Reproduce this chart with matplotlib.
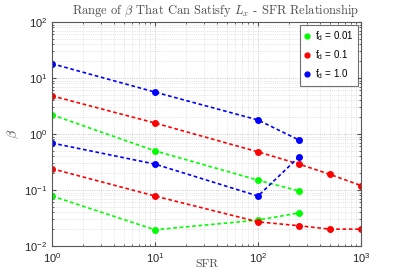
import matplotlib
matplotlib.use("Agg")
import matplotlib.pyplot as plt
from matplotlib.ticker import LogLocator

plt.rcParams['mathtext.fontset'] = 'custom'
plt.rcParams['mathtext.rm'] = 'Liberation Sans'
plt.rcParams['mathtext.sf'] = 'Liberation Sans'
plt.rcParams['mathtext.it'] = 'Liberation Sans:italic'
plt.rcParams['font.family'] = ['Liberation Sans', 'DejaVu Sans']
plt.rcParams['axes.formatter.use_mathtext'] = True

sfr_a = [1, 10, 100, 250]
sfr_red_upper = [1, 10, 100, 250, 500, 1000]

green_upper = [2.2, 0.50, 0.15, 0.096]
green_lower = [0.078, 0.0195, 0.029, 0.039]
red_upper = [4.8, 1.57, 0.48, 0.29, 0.19, 0.12]
red_lower = [0.24, 0.078, 0.027, 0.023, 0.020, 0.020]
blue_upper = [18.0, 5.6, 1.78, 0.78]
blue_lower = [0.69, 0.29, 0.078, 0.39]

labels = ['f$_\\mathregular{d}$ = 0.01', 'f$_\\mathregular{d}$ = 0.1', 'f$_\\mathregular{d}$ = 1.0']

fig = plt.figure(figsize=(3.99, 2.77), dpi=100)
ax = fig.add_axes([52/399, 1-246/277, (361-52)/399, (246-22)/277])

ls = (0, (2.2, 1.6))
kw = dict(linestyle=ls, linewidth=1.2, marker='o', markersize=4)
g = (0, 1, 0)
ax.plot(sfr_a, green_upper, color=g, label=labels[0], **kw)
ax.plot(sfr_red_upper, red_upper, color='r', label=labels[1], **kw)
ax.plot(sfr_a, blue_upper, color='b', label=labels[2], **kw)
ax.plot(sfr_a, green_lower, color=g, **kw)
ax.plot(sfr_red_upper, red_lower, color='r', **kw)
ax.plot(sfr_a, blue_lower, color='b', **kw)

ax.set_xscale('log')
ax.set_yscale('log')
ax.set_xlim(1, 1000)
ax.set_ylim(1e-2, 1e2)
ax.xaxis.set_major_locator(LogLocator(base=10, numticks=10))
ax.yaxis.set_major_locator(LogLocator(base=10, numticks=10))
ax.xaxis.set_minor_locator(LogLocator(base=10, subs=range(2, 10), numticks=100))
ax.yaxis.set_minor_locator(LogLocator(base=10, subs=range(2, 10), numticks=100))
ax.tick_params(which='both', direction='in', top=True, right=True, labelsize=8, color='0.3',
               labelcolor='0.15')
ax.tick_params(which='major', length=3)
ax.tick_params(which='minor', length=1.5)
ax.grid(True, which='major', linestyle=':', color='0.72', linewidth=0.6)
ax.grid(True, which='minor', linestyle=':', color='0.82', linewidth=0.5)
for s in ax.spines.values():
    s.set_color('0.35')
    s.set_linewidth(0.8)

ax.set_title(r'Range of $\beta$ That Can Satisfy $L_x$ - SFR Relationship',
             fontname='cmr10', math_fontfamily='cm', fontsize=9, color='0.3', pad=6,
             x=0.531)
ax.set_xlabel('SFR', fontname='cmr10', fontsize=8.5, color='0.3')
ax.xaxis.set_label_coords(0.5, -0.06)
ax.set_ylabel(r'$\beta$', math_fontfamily='cm', fontsize=10, color='0.3')
ax.yaxis.set_label_coords(-0.1, 0.5)

leg = ax.legend(loc='upper right', fontsize=7, handlelength=0.5, numpoints=1,
                frameon=True, fancybox=False, edgecolor='0.3', borderpad=0.45,
                labelspacing=0.55, handletextpad=0.6, borderaxespad=0.3)
for h in leg.legend_handles:
    h.set_linestyle('none')
    h.set_markersize(3.5)
leg.get_frame().set_linewidth(0.8)

fig.savefig('out.png', dpi=100)
